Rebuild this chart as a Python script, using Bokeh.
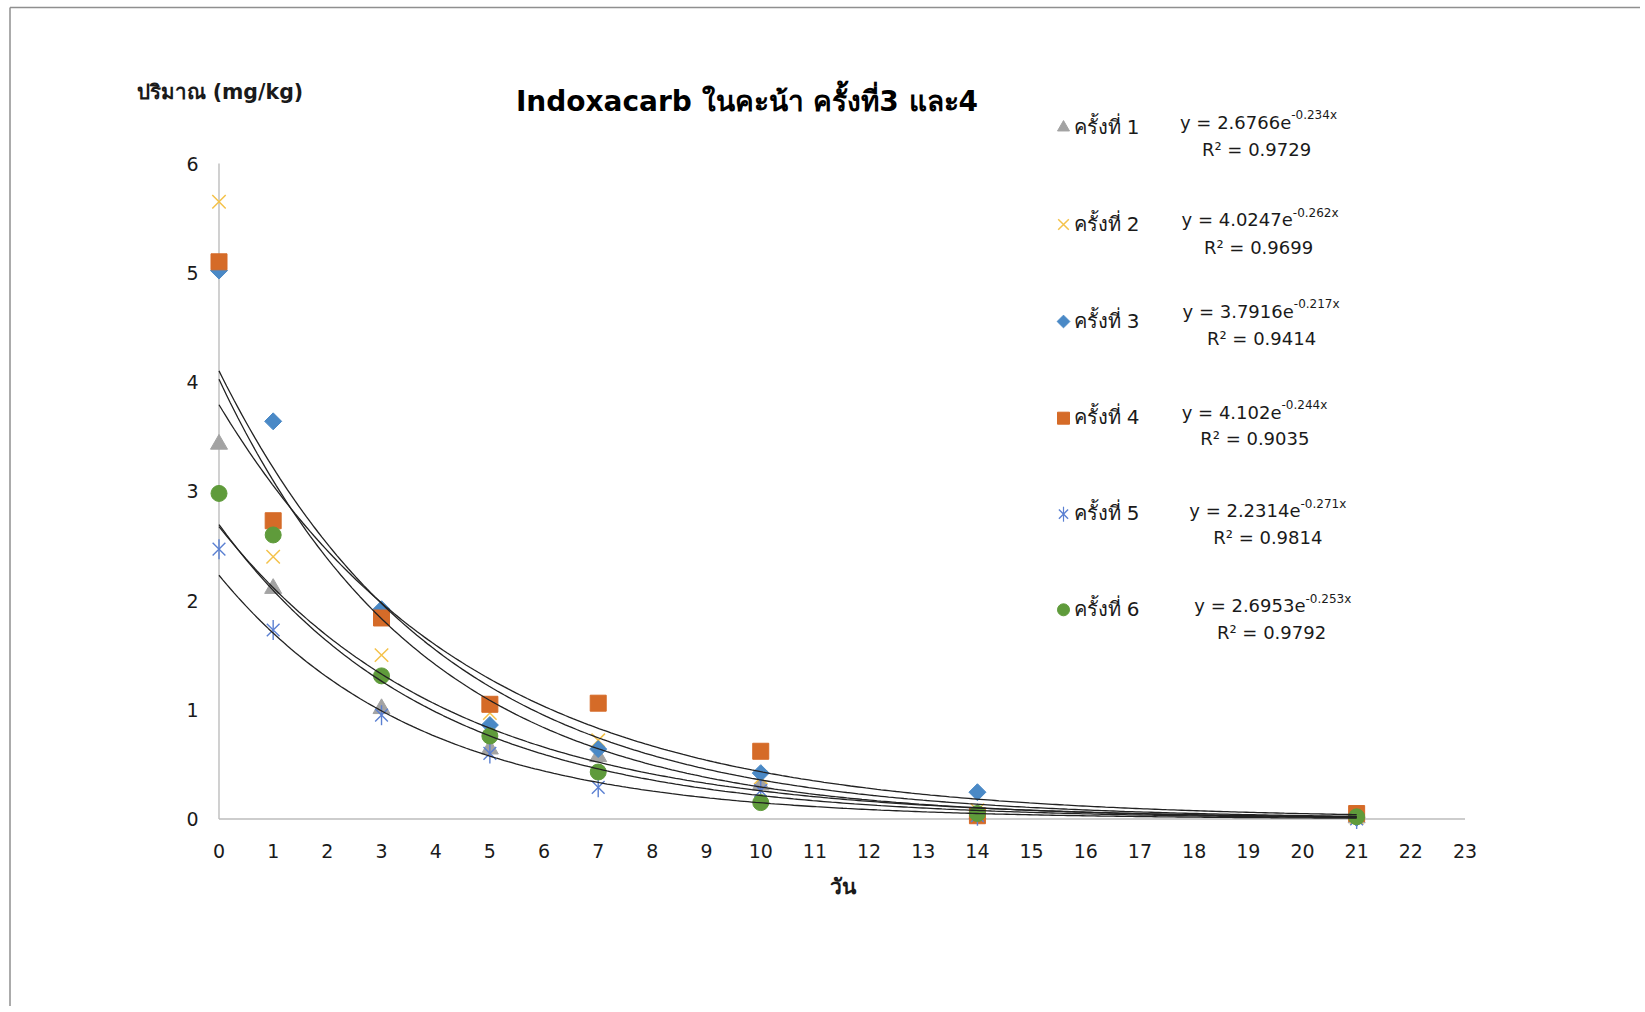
import numpy as np
from bokeh.plotting import figure
from bokeh.models import Range1d, Label
from bokeh.core.properties import value
from bokeh.embed import file_html
from bokeh.resources import INLINE

# ---------------- data ----------------
days = [0, 1, 3, 5, 7, 10, 14, 21]
round1 = [3.43, 2.11, 1.01, 0.64, 0.57, 0.31, 0.05, 0.01]
round2 = [5.65, 2.40, 1.50, 0.97, 0.72, 0.38, 0.08, 0.01]
round3 = [5.02, 3.64, 1.92, 0.86, 0.64, 0.42, 0.245, 0.01]
round4 = [5.10, 2.73, 1.84, 1.05, 1.06, 0.62, 0.03, 0.05]
round5 = [2.47, 1.73, 0.95, 0.60, 0.29, 0.26, 0.03, 0.00]
round6 = [2.98, 2.60, 1.31, 0.76, 0.43, 0.15, 0.05, 0.02]
series_values = [round1, round2, round3, round4, round5, round6]
series_names = ["ครั้งที่ 1", "ครั้งที่ 2", "ครั้งที่ 3", "ครั้งที่ 4", "ครั้งที่ 5", "ครั้งที่ 6"]

fit_a = [2.6766, 4.0247, 3.7916, 4.102, 2.2314, 2.6953]
fit_k = [0.234, 0.262, 0.217, 0.244, 0.271, 0.253]
fit_r2 = ["0.9729", "0.9699", "0.9414", "0.9035", "0.9814", "0.9792"]
fit_end_day = 21

x_ticks = list(range(0, 24))
y_ticks = [0, 1, 2, 3, 4, 5, 6]

title_text = "Indoxacarb ในคะน้า ครั้งที่3 และ4"
y_label_text = "ปริมาณ (mg/kg)"
x_label_text = "วัน"

# ---------------- layout helpers (page pixels -> data) ----------------
W, H = 1640, 1006
X0_PX, X23_PX = 218.5, 1464.5
Y0_PX, Y6_PX = 818.5, 163.0
PX_PER_X = (X23_PX - X0_PX) / 23.0
PX_PER_Y = (Y0_PX - Y6_PX) / 6.0


def dx(px):
    return (px - X0_PX) / PX_PER_X


def dy(py):
    return (Y0_PX - py) / PX_PER_Y


FONT = "DejaVu Sans"
TEXT_COLOR = "#1a1a1a"
AXIS_COLOR = "#BDBDBD"

p = figure(width=W, height=H, output_backend="svg", toolbar_location=None,
           x_range=Range1d(dx(0), dx(W)), y_range=Range1d(dy(H), dy(0)),
           x_axis_location=None, y_axis_location=None,
           min_border=0, min_border_left=0, min_border_right=0,
           min_border_top=0, min_border_bottom=0)
p.outline_line_color = None
p.grid.visible = False
p.background_fill_color = "white"
p.border_fill_color = "white"

# chart-area border (top and left edges visible in the crop)
p.line([dx(9.5), dx(W)], [dy(7), dy(7)], line_color="#8f8f8f", line_width=1.5)
p.line([dx(9.5), dx(9.5)], [dy(7), dy(H)], line_color="#8f8f8f", line_width=1.5)

# axis lines
p.line([x_ticks[0], x_ticks[-1]], [y_ticks[0], y_ticks[0]], line_color=AXIS_COLOR, line_width=1.4)
p.line([x_ticks[0], x_ticks[0]], [y_ticks[0], y_ticks[-1]], line_color=AXIS_COLOR, line_width=1.4)

# tick labels
p.text(x=x_ticks, y=[dy(850)] * len(x_ticks), text=[str(t) for t in x_ticks],
       text_align="center", text_baseline="middle", text_font=value(FONT),
       text_font_size="19px", text_color=TEXT_COLOR)
p.text(x=[dx(198)] * len(y_ticks), y=y_ticks, text=[str(t) for t in y_ticks],
       text_align="right", text_baseline="middle", text_font=value(FONT),
       text_font_size="19px", text_color=TEXT_COLOR)

styles = [
    dict(marker="triangle", size=17, fill_color="#A3A3A3", line_color="#A3A3A3", angle=0.0, line_width=1),
    dict(marker="x", size=19, fill_color=None, line_color="#F4C24A", angle=0.0, line_width=1.5),
    dict(marker="square", size=12, fill_color="#4A89C6", line_color="#4A89C6", angle=np.pi / 4, line_width=1),
    dict(marker="square", size=16, fill_color="#D56B28", line_color="#D56B28", angle=0.0, line_width=1),
    dict(marker="x", size=18, fill_color=None, line_color="#5B80D2", angle=0.0, line_width=1.4),
    dict(marker="circle", size=16, fill_color="#5F9B3B", line_color="#5F9B3B", angle=0.0, line_width=1),
]
legend_sizes = [12, 15, 9, 12, 13, 12]
ASTERISK = 4

for i, (vals, st) in enumerate(zip(series_values, styles)):
    p.scatter(days, vals, **st)
    if i == ASTERISK:
        p.scatter(days, vals, marker="dash", size=20, angle=np.pi / 2,
                  line_color=st["line_color"], line_width=1.4)

# trendlines
xs = np.linspace(0, fit_end_day, 300)
for a, k in zip(fit_a, fit_k):
    p.line(xs, a * np.exp(-k * xs), line_color="#222222", line_width=1.3)

# ---------------- texts ----------------
p.add_layout(Label(x=dx(746.5), y=dy(100.5), text=title_text, text_align="center",
                   text_baseline="middle", text_font=FONT, text_font_style="bold",
                   text_font_size="28px", text_color="#000000"))
p.add_layout(Label(x=dx(136), y=dy(91), text=y_label_text, text_align="left",
                   text_baseline="middle", text_font=FONT, text_font_style="bold",
                   text_font_size="20.5px", text_color=TEXT_COLOR))
p.add_layout(Label(x=dx(842), y=dy(886), text=x_label_text, text_align="center",
                   text_baseline="middle", text_font=FONT, text_font_style="bold",
                   text_font_size="21px", text_color=TEXT_COLOR))

# legend entries (positions in page pixels)
leg_marker_x = 1063
leg_text_x = 1073
leg_y = [126, 223, 320, 416.7, 512.7, 608.3]
eq_split_x = [1290.7, 1292.3, 1293.3, 1281, 1300, 1305]
eq_y = [121.7, 219.3, 310.7, 411.7, 510, 605]
r2_cx = [1256, 1258, 1261, 1254.3, 1267.3, 1271]
r2_y = [149.3, 246.7, 338.3, 438.3, 536.7, 631.7]

for i, (name, st) in enumerate(zip(series_names, styles)):
    lst = dict(st)
    lst["size"] = legend_sizes[i]
    p.scatter([dx(leg_marker_x)], [dy(leg_y[i] + 1)], **lst)
    if i == ASTERISK:
        p.scatter([dx(leg_marker_x)], [dy(leg_y[i] + 1)], marker="dash", size=15,
                  angle=np.pi / 2, line_color=st["line_color"], line_width=1.2)
    p.add_layout(Label(x=dx(leg_text_x), y=dy(leg_y[i]), text=name, text_align="left",
                       text_baseline="middle", text_font=FONT, text_font_size="20px",
                       text_color=TEXT_COLOR))
    p.add_layout(Label(x=dx(eq_split_x[i]), y=dy(eq_y[i]), text=f"y = {fit_a[i]}e",
                       text_align="right", text_baseline="middle", text_font=FONT,
                       text_font_size="18px", text_color=TEXT_COLOR))
    p.add_layout(Label(x=dx(eq_split_x[i]), y=dy(eq_y[i] - 7), text=f"-{fit_k[i]}x",
                       text_align="left", text_baseline="middle", text_font=FONT,
                       text_font_size="12px", text_color=TEXT_COLOR))
    p.add_layout(Label(x=dx(r2_cx[i]), y=dy(r2_y[i]), text=f"R² = {fit_r2[i]}",
                       text_align="center", text_baseline="middle", text_font=FONT,
                       text_font_size="18px", text_color=TEXT_COLOR))

open("out.html", "w").write(file_html(p, INLINE))
